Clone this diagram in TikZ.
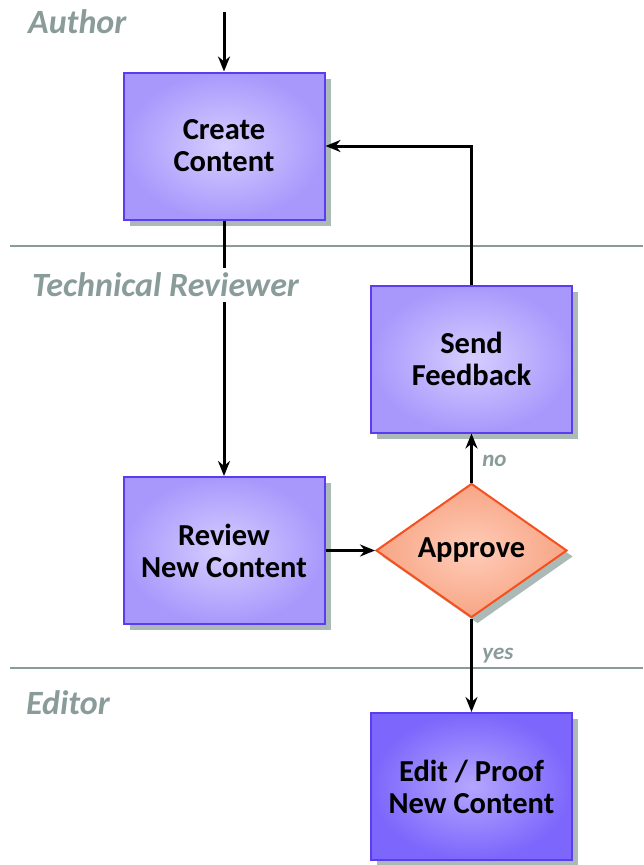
\documentclass[tikz,border=0pt]{standalone}
\usepackage{fontspec}
\setmainfont{Carlito}
\usetikzlibrary{shapes.geometric,shadows,arrows.meta}
\definecolor{boxborder}{HTML}{5A3CF5}
\definecolor{boxin}{HTML}{D6CEFF}
\definecolor{boxout}{HTML}{A898FC}
\definecolor{edin}{HTML}{B4A6FF}
\definecolor{edout}{HTML}{7C66FC}
\definecolor{dborder}{HTML}{F5501E}
\definecolor{din}{HTML}{FFCCB8}
\definecolor{dout}{HTML}{F7A585}
\definecolor{shadowc}{HTML}{ABBAB6}
\definecolor{lanec}{HTML}{8A9C99}
\tikzset{
  procbox/.style={draw=boxborder, line width=2pt, shading=radial, inner color=boxin, outer color=boxout,
    minimum width=201pt, minimum height=147pt, align=center, inner sep=0pt,
    font=\fontsize{30.5}{32}\selectfont\bfseries,
    drop shadow={shadow xshift=6pt, shadow yshift=-6pt, fill=shadowc, opacity=1}},
  editbox/.style={procbox, inner color=edin, outer color=edout},
  decision/.style={diamond, draw=dborder, line width=2pt, shading=radial, inner color=din, outer color=dout,
    minimum width=191pt, minimum height=134pt, inner sep=0pt, aspect=1.43,
    font=\fontsize{30.5}{32}\selectfont\bfseries,
    drop shadow={shadow xshift=6pt, shadow yshift=-6pt, fill=shadowc, opacity=1}},
  lanelabel/.style={anchor=west, text=lanec, font=\fontsize{34}{38}\selectfont\bfseries\itshape, inner sep=2pt},
  lane/.style={draw=lanec, line width=2pt},
  conn/.style={draw=black, line width=3pt, -{Stealth[length=15pt,width=12pt]}},
  branch/.style={text=lanec, font=\fontsize{23}{26}\selectfont\bfseries\itshape}
}
\begin{document}
\begin{tikzpicture}[x=1pt,y=-1pt]
\useasboundingbox (0,0) rectangle (643,865);
% lanes
\draw[lane] (10,246) -- (643,246);
\draw[lane] (10,668) -- (643,668);
% nodes
\node[procbox] (create) at (224,146) {Create\\Content};
\node[procbox] (send) at (471.5,359) {Send\\Feedback};
\node[procbox] (review) at (224,550.5) {Review\\New Content};
\node[decision] (approve) at (471.5,550.5) {Approve};
\node[editbox] (edit) at (471.5,786.5) {Edit / Proof\\New Content};
% connectors
\coordinate (start) at (224,12);
\draw[conn] (start) -- (create.north);
\draw[conn] (create.south) -- (review.north);
\draw[conn] (review.east) -- (approve.west);
\draw[conn] (approve.north) -- node[branch, right=6pt, pos=0.45] (no) {no} (send.south);
\draw[conn] (approve.south) -- node[branch, right=6pt, pos=0.4] (yes) {yes} (edit.north);
\draw[conn] (send.north) -- (send.north |- create.east) -- (create.east);
% lane labels
\node[lanelabel] (lauthor) at (26,22) {Author};
\node[lanelabel, fill=white, inner sep=5pt] (ltech) at (27,285) {Technical Reviewer};
\node[lanelabel] (leditor) at (24,703) {Editor};
\end{tikzpicture}
\end{document}
